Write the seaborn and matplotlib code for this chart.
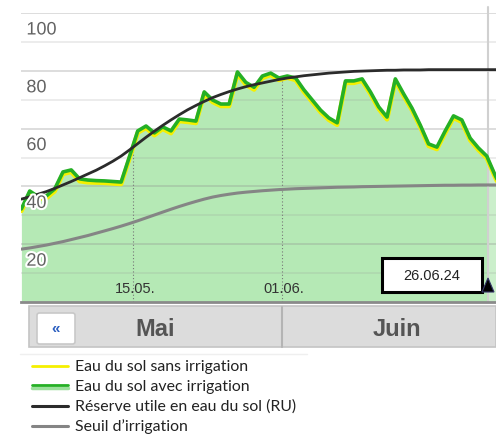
import numpy as np
import pandas as pd
import matplotlib
matplotlib.use('Agg')
import matplotlib.pyplot as plt
import matplotlib.patheffects as pe
from matplotlib.patches import Rectangle, FancyBboxPatch, Polygon
from matplotlib.lines import Line2D
import seaborn as sns

# Soil water (%), one value per day
avec_irrig = [32.2, 38.4, 36.5, 36.7, 39.1, 45.0, 45.7, 42.6, 42.2, 42.0,
              41.9, 41.7, 41.5, 50.3, 59.2, 60.9, 58.5, 60.6, 59.2, 63.3,
              63.0, 62.6, 72.7, 69.9, 68.5, 68.5, 79.6, 76.0, 74.3, 78.2,
              79.2, 77.5, 78.2, 77.5, 73.4, 69.9, 66.4, 63.7, 62.0, 76.5,
              76.5, 77.2, 72.7, 67.5, 64.0, 77.2, 72.0, 67.1, 61.2, 54.7,
              53.6, 59.2, 64.4, 63.0, 56.7, 53.3, 50.5, 43.9, 38.0]
sans_irrig = [31.5, 37.6, 35.8, 35.9, 38.3, 44.3, 45.0, 41.8, 41.4, 41.3,
              41.2, 41.0, 40.8, 49.6, 58.6, 60.2, 57.7, 59.9, 58.4, 62.6,
              62.3, 61.9, 72.0, 69.2, 67.8, 67.8, 79.0, 75.2, 73.5, 77.5,
              78.6, 76.8, 77.6, 76.8, 72.7, 69.2, 65.7, 63.0, 61.3, 75.8,
              75.8, 76.5, 72.0, 66.8, 63.2, 76.5, 71.3, 66.4, 60.5, 54.0,
              52.9, 58.5, 63.7, 62.3, 56.0, 52.6, 49.8, 43.2, 37.3]
reserve_ru = [35.6, 36.4, 37.3, 38.2, 39.3, 40.5, 41.7, 43.0, 44.3, 45.6,
              47.1, 48.7, 50.5, 52.6, 54.8, 57.0, 59.1, 61.1, 63.0, 64.8,
              66.5, 68.0, 69.4, 70.7, 71.8, 72.8, 73.7, 74.5, 75.2, 75.8,
              76.4, 77.0, 77.5, 77.9, 78.3, 78.6, 78.9, 79.2, 79.4, 79.6,
              79.8, 79.9, 80.0, 80.1, 80.2, 80.2, 80.3, 80.3, 80.3, 80.4,
              80.4, 80.4, 80.4, 80.4, 80.4, 80.4, 80.4, 80.4, 80.4]
seuil = [18.3, 18.7, 19.2, 19.7, 20.3, 20.9, 21.6, 22.3, 23.0, 23.8,
         24.6, 25.4, 26.25, 27.15, 28.1, 29.1, 30.1, 31.1, 32.1, 33.05,
         33.95, 34.8, 35.6, 36.3, 36.85, 37.3, 37.7, 38.0, 38.25, 38.5,
         38.7, 38.9, 39.05, 39.2, 39.3, 39.4, 39.5, 39.6, 39.7, 39.75,
         39.8, 39.9, 39.95, 40.0, 40.05, 40.1, 40.15, 40.2, 40.25, 40.3,
         40.35, 40.4, 40.4, 40.45, 40.45, 40.5, 40.5, 40.5, 40.5]

# x axis labels (position in days from first point) and current date
tick_pos = [13.4, 31.3]
tick_labels = ['15.05.', '01.06.']
today_pos = 56.15
today_label = '26.06.24'
y_labels = [20, 40, 60, 80, 100]
months = ['Mai', 'Juin']
legend_labels = ['Eau du sol sans irrigation', 'Eau du sol avec irrigation',
                 'Réserve utile en eau du sol (RU)', 'Seuil d\u2019irrigation']

df = pd.DataFrame({'jour': np.arange(len(avec_irrig)), 'avec': avec_irrig,
                   'sans': sans_irrig, 'ru': reserve_ru, 'seuil': seuil})

sns.set_style('white')
plt.rcParams['font.family'] = ['Liberation Sans', 'DejaVu Sans']

W, H = 496, 435
fig = plt.figure(figsize=(W / 100, H / 100), dpi=100)
ax = fig.add_axes([21.4 / W, 1 - 303 / H, (W - 21.4) / W, 289 / H])

green_fill = '#b5e9b5'
ax.fill_between(df['jour'], df['avec'], 0, color=green_fill, lw=0, zorder=1)
ax.axvspan(today_pos, 60, color='white', alpha=0.3, lw=0, zorder=1.2)

for v in range(10, 101, 10):
    c = (0.55, 0.55, 0.55, 0.35) if v % 20 == 0 else (0.6, 0.6, 0.6, 0.22)
    ax.axhline(v, color=c, lw=1.2, zorder=1.5)

# dotted date lines inside the area
for tp in tick_pos:
    top = np.interp(tp, df['jour'], df['avec'])
    ax.vlines(tp, 0, top, colors='#777777', linestyles=(0, (1, 2)), lw=0.8, zorder=1.6)

ax.plot([today_pos, today_pos], [0, 1.02], color='#d0d0d0', lw=1.5, zorder=1.7,
        transform=ax.get_xaxis_transform(), clip_on=False)

sns.lineplot(data=df, x='jour', y='sans', color='#f5f000', lw=3.2, ax=ax, zorder=3)
sns.lineplot(data=df, x='jour', y='avec', color='#25b025', lw=2.6, ax=ax, zorder=4)
sns.lineplot(data=df, x='jour', y='seuil', color='#858585', lw=2.2, ax=ax, zorder=5)
sns.lineplot(data=df, x='jour', y='ru', color='#2b2b2b', lw=2.0, ax=ax, zorder=6)

ax.set_xlim(0, (W - 21.4) / 8.31)
ax.set_ylim(0, 100)
ax.set_xticks([])
ax.set_yticks([])
ax.set_xlabel('')
ax.set_ylabel('')
for s in ['top', 'left', 'right']:
    ax.spines[s].set_visible(False)
ax.spines['bottom'].set_color('#8a8a8a')
ax.spines['bottom'].set_linewidth(2)
ax.spines['bottom'].set_zorder(7)

halo = [pe.withStroke(linewidth=3, foreground='white')]
for v in y_labels:
    ax.annotate(str(v), xy=(0, v), xycoords=('axes fraction', 'data'),
                xytext=(5, -17), textcoords='offset pixels', ha='left', va='center',
                fontsize=13, color='#626262', zorder=8, path_effects=halo,
                annotation_clip=False)

for tp, lab in zip(tick_pos, tick_labels):
    ax.annotate(lab, xy=(tp, 0), xycoords=('data', 'axes fraction'),
                xytext=(2, 14), textcoords='offset pixels', ha='center', va='center',
                fontsize=10.5, color='#333333', zorder=8)

# date box and marker
fig.add_artist(Rectangle((382 / W, 1 - 293 / H), 100 / W, 34 / H, transform=fig.transFigure,
                         fc='white', ec='black', lw=2.2, zorder=10))
fig.text(432 / W, 1 - 276 / H, today_label, ha='center', va='center', fontsize=10.5,
         color='#222222', zorder=11)
fig.add_artist(Polygon([(482 / W, 1 - 293 / H), (494 / W, 1 - 293 / H), (488 / W, 1 - 279 / H)],
                       closed=True, transform=fig.transFigure, fc='black', ec='#333366',
                       lw=0.8, zorder=10))

# month navigation bar
fig.add_artist(Rectangle((29 / W, 1 - 348 / H), (W - 29) / W, 41 / H, transform=fig.transFigure,
                         fc='#dcdcdc', ec='#c4c4c4', lw=1.2, zorder=2))
fig.add_artist(FancyBboxPatch((37 / W, 1 - 345 / H), 38 / W, 31 / H, transform=fig.transFigure,
                              boxstyle='round,pad=0,rounding_size=0.005', fc='white',
                              ec='#c8c8c8', lw=1.2, zorder=3))
fig.text(56 / W, 1 - 329 / H, '\u00ab', ha='center', va='center', fontsize=11,
         fontweight='bold', color='#2c5fc0', zorder=4)
fig.add_artist(Line2D([282 / W, 282 / W], [1 - 348 / H, 1 - 308 / H], transform=fig.transFigure,
                      color='#b4b4b4', lw=1.5, zorder=3))
for mx, m in zip([155, 397], months):
    fig.text(mx / W, 1 - 329 / H, m, ha='center', va='center', fontsize=17,
             fontweight='bold', color='#555555', zorder=4)
fig.add_artist(Line2D([20 / W, 307 / W], [1 - 355 / H, 1 - 355 / H], transform=fig.transFigure,
                      color='#efefef', lw=1, zorder=1))

# legend
leg_y = [367, 387, 407, 427]
for i, (yy, lab) in enumerate(zip(leg_y, legend_labels)):
    yf = 1 - yy / H
    if i == 0:
        fig.add_artist(Line2D([32 / W, 68 / W], [yf, yf], transform=fig.transFigure,
                              color='#f5f000', lw=2))
    elif i == 1:
        fig.add_artist(Line2D([32 / W, 68 / W], [yf - 1.5 / H, yf - 1.5 / H],
                              transform=fig.transFigure, color='#9be09b', lw=2.5))
        fig.add_artist(Line2D([32 / W, 68 / W], [yf + 1 / H, yf + 1 / H],
                              transform=fig.transFigure, color='#25b025', lw=2))
    elif i == 2:
        fig.add_artist(Line2D([32 / W, 68 / W], [yf, yf], transform=fig.transFigure,
                              color='#2b2b2b', lw=2.2))
    else:
        fig.add_artist(Line2D([32 / W, 68 / W], [yf, yf], transform=fig.transFigure,
                              color='#858585', lw=2.2))
    fig.text(75 / W, yf, lab, ha='left', va='center', fontsize=11.4, color='#222222',
             family=['Lato', 'DejaVu Sans'])

fig.savefig('out.png', dpi=100)
